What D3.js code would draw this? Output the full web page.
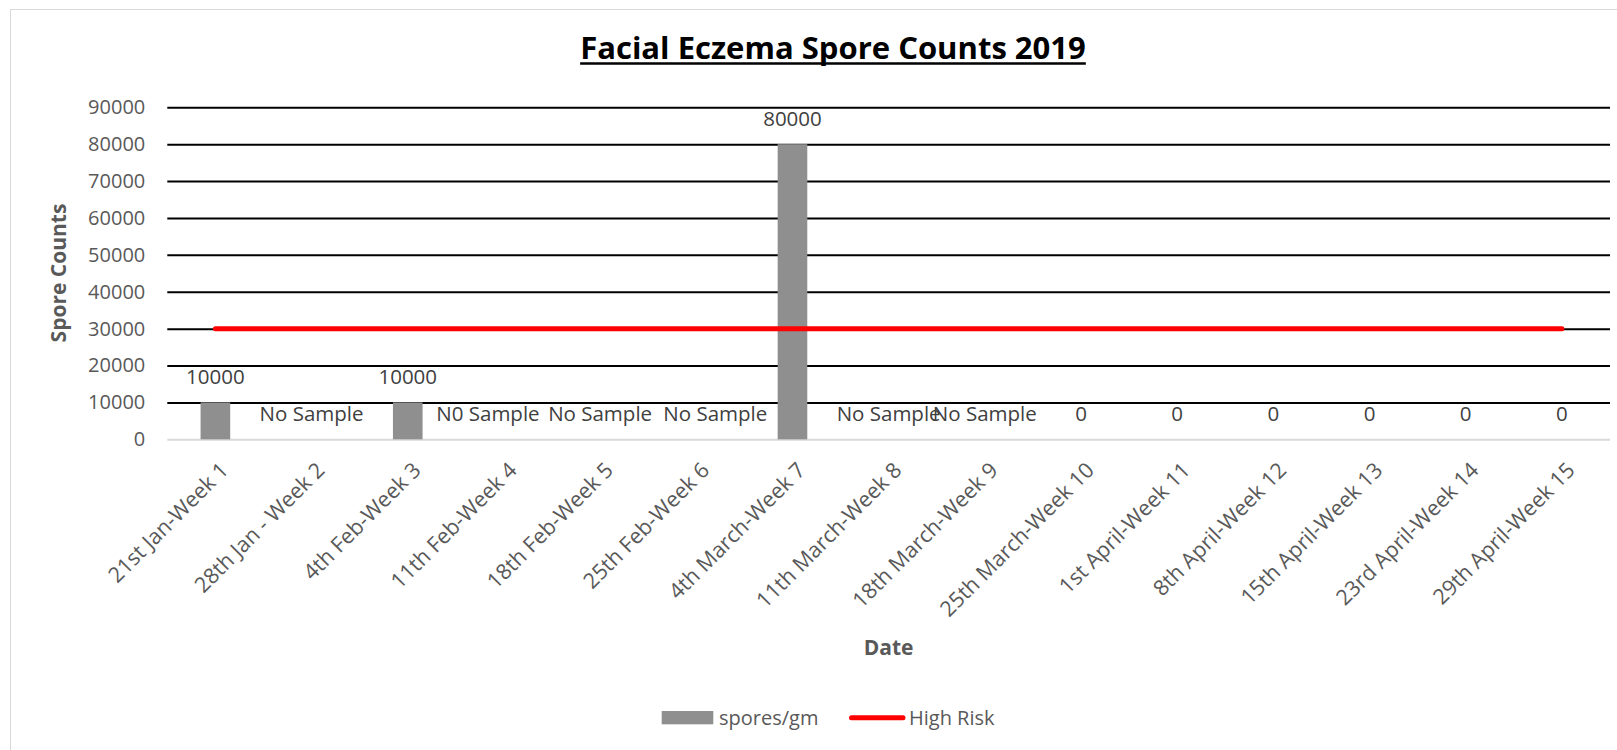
<!DOCTYPE html>
<html>
<head>
<meta charset="utf-8">
<script src="https://cdnjs.cloudflare.com/ajax/libs/d3/7.8.5/d3.min.js"></script>
<style>
  body { margin: 0; background: #fff; }
  text { font-family: "Open Sans", sans-serif; }
</style>
</head>
<body>
<div id="chart"></div>
<script>
// Data
var weeks = [
  "21st Jan-Week 1", "28th Jan - Week 2", "4th Feb-Week 3", "11th Feb-Week 4",
  "18th Feb-Week 5", "25th Feb-Week 6", "4th March-Week 7", "11th March-Week 8",
  "18th March-Week 9", "25th March-Week 10", "1st April-Week 11", "8th April-Week 12",
  "15th April-Week 13", "23rd April-Week 14", "29th April-Week 15"
];
var sporesPerGm = [10000, null, 10000, null, null, null, 80000, null, null, 0, 0, 0, 0, 0, 0];
var pointLabels = ["10000", "No Sample", "10000", "N0 Sample", "No Sample", "No Sample", "80000",
  "No Sample", "No Sample", "0", "0", "0", "0", "0", "0"];
var highRisk = [30000, 30000, 30000, 30000, 30000, 30000, 30000, 30000, 30000, 30000, 30000, 30000, 30000, 30000, 30000];
var yTicks = [0, 10000, 20000, 30000, 40000, 50000, 60000, 70000, 80000, 90000];

var width = 1617;
var height = 750;
var plotLeft = 167.3;
var plotRight = 1610;
var plotTop = 107.3;
var plotBottom = 439.3;

var svg = d3.select("#chart")
  .append("svg")
  .attr("width", width)
  .attr("height", height);

// chart frame
svg.append("rect")
  .attr("x", 10.5)
  .attr("y", 9.5)
  .attr("width", width + 20)
  .attr("height", height + 20)
  .attr("fill", "#fff")
  .attr("stroke", "#d9d9d9");

var xScale = d3.scaleBand()
  .domain(weeks)
  .range([plotLeft, plotRight])
  .paddingInner(0.692)
  .paddingOuter(0.346);

var yScale = d3.scaleLinear()
  .domain([0, 90000])
  .range([plotBottom, plotTop]);

function center(i) {
  return xScale(weeks[i]) + xScale.bandwidth() / 2;
}

// y axis + gridlines
var yAxis = d3.axisLeft(yScale)
  .tickValues(yTicks)
  .tickFormat(d3.format("d"))
  .tickSize(-(plotRight - plotLeft))
  .tickPadding(22);

var yG = svg.append("g")
  .attr("transform", "translate(" + plotLeft + ",0)")
  .call(yAxis);
yG.select(".domain").remove();
yG.selectAll(".tick line")
  .attr("stroke", function(d) { return d === 0 ? "#d9d9d9" : "#000"; })
  .attr("stroke-width", 2);
yG.selectAll(".tick text")
  .attr("fill", "#595959")
  .style("font-size", "20px");

// bars (null = no sample, nothing drawn)
svg.selectAll(".bar")
  .data(sporesPerGm.map(function(v, i) { return { week: weeks[i], value: v }; })
    .filter(function(d) { return d.value; }))
  .enter()
  .append("rect")
  .attr("class", "bar")
  .attr("x", function(d) { return xScale(d.week); })
  .attr("width", xScale.bandwidth())
  .attr("y", function(d) { return yScale(d.value); })
  .attr("height", function(d) { return plotBottom - yScale(d.value); })
  .attr("fill", "#8f8f8f");

// high risk line
var line = d3.line()
  .x(function(d, i) { return center(i); })
  .y(function(d) { return yScale(d); });

svg.append("path")
  .datum(highRisk)
  .attr("d", line)
  .attr("fill", "none")
  .attr("stroke", "#ff0000")
  .attr("stroke-width", 5)
  .attr("stroke-linecap", "round");

// data labels (a couple were dragged sideways in the original)
var labelNudge = { 3: -16, 5: 19 };
svg.selectAll(".dataLabel")
  .data(pointLabels)
  .enter()
  .append("text")
  .attr("class", "dataLabel")
  .attr("x", function(d, i) { return center(i) + (labelNudge[i] || 0); })
  .attr("y", function(d, i) { return yScale(sporesPerGm[i] || 0) - 18; })
  .attr("text-anchor", "middle")
  .attr("fill", "#404040")
  .style("font-size", "20.5px")
  .text(function(d) { return d; });

// category labels, rotated
svg.selectAll(".xLabel")
  .data(weeks)
  .enter()
  .append("text")
  .attr("class", "xLabel")
  .attr("transform", function(d, i) {
    return "translate(" + (center(i) + 9) + "," + (plotBottom + 27) + ") rotate(-45)";
  })
  .attr("text-anchor", "end")
  .attr("dy", "0.35em")
  .attr("fill", "#595959")
  .style("font-size", "21.5px")
  .text(function(d) { return d; });

// title, sized to match the original width
var title = svg.append("text")
  .attr("x", 833)
  .attr("y", 59)
  .attr("text-anchor", "middle")
  .attr("fill", "#000")
  .style("font-size", "30px")
  .style("font-weight", "bold")
  .text("Facial Eczema Spore Counts 2019");
var tw = title.node().getComputedTextLength();
title.style("font-size", (30 * 506 / tw) + "px");
tw = title.node().getComputedTextLength();
svg.append("line")
  .attr("x1", 833 - tw / 2)
  .attr("x2", 833 + tw / 2)
  .attr("y1", 63.5)
  .attr("y2", 63.5)
  .attr("stroke", "#000")
  .attr("stroke-width", 2.5);

// axis titles
svg.append("text")
  .attr("transform", "translate(66,273) rotate(-90)")
  .attr("text-anchor", "middle")
  .attr("fill", "#595959")
  .style("font-size", "21px")
  .style("font-weight", "bold")
  .text("Spore Counts");

svg.append("text")
  .attr("x", (plotLeft + plotRight) / 2)
  .attr("y", 655)
  .attr("text-anchor", "middle")
  .attr("fill", "#595959")
  .style("font-size", "21px")
  .style("font-weight", "bold")
  .text("Date");

// legend
var legend = svg.append("g").attr("class", "legend");
legend.append("rect")
  .attr("x", 661.7)
  .attr("y", 711)
  .attr("width", 51.6)
  .attr("height", 13.3)
  .attr("fill", "#8f8f8f");
legend.append("text")
  .attr("x", 719)
  .attr("y", 725)
  .attr("fill", "#595959")
  .style("font-size", "20px")
  .text("spores/gm");
legend.append("line")
  .attr("x1", 851.5)
  .attr("x2", 903)
  .attr("y1", 717.7)
  .attr("y2", 717.7)
  .attr("stroke", "#ff0000")
  .attr("stroke-width", 5)
  .attr("stroke-linecap", "round");
legend.append("text")
  .attr("x", 909)
  .attr("y", 725)
  .attr("fill", "#595959")
  .style("font-size", "20px")
  .text("High Risk");
</script>
</body>
</html>
